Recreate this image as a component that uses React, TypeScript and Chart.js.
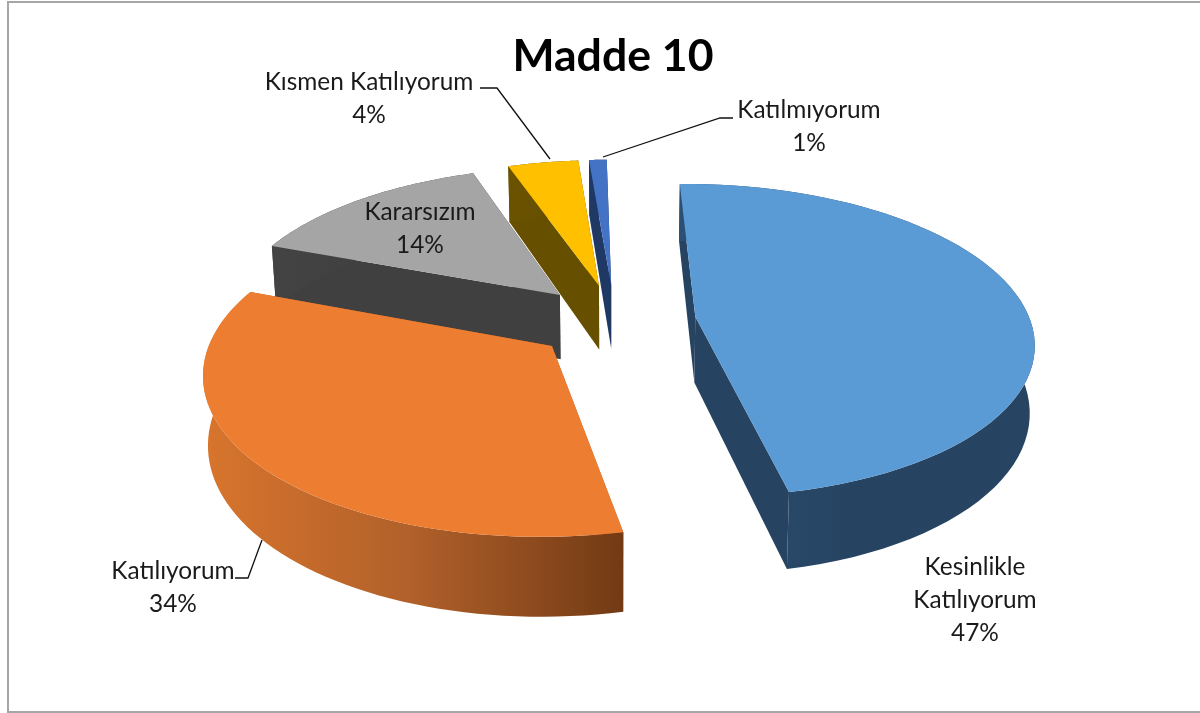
import React, { useEffect, useRef } from "react";
import { Chart, registerables } from "chart.js";

Chart.register(...registerables);

const TITLE = "Madde 10";
const CATEGORIES = ["Kesinlikle Katılıyorum", "Katılıyorum", "Kararsızım", "Kısmen Katılıyorum", "Katılmıyorum"];
const VALUES = [47, 34, 14, 4, 1];
const TOP_COLORS = ["#5B9BD5", "#ED7D31", "#A5A5A5", "#FFC000", "#4472C4"];
const SIDE_COLORS: string[][] = [
  ["#2C5074", "#264361", "#274563"],
  ["#D8752D", "#B0602A", "#723A14"],
  ["#434343", "#404040", "#464646"],
  ["#6B5200", "#665000", "#665000"],
  ["#203864", "#203864", "#203864"],
];
const PAINT_ORDER = [4, 3, 2, 1, 0];
const LABEL_LINES: string[][] = [["Kesinlikle", "Katılıyorum"], ["Katılıyorum"], ["Kararsızım"], ["Kısmen Katılıyorum"], ["Katılmıyorum"]];

// layout of the picture (not data)
const FONT = "Lato, Carlito, sans-serif";
const LABEL_PX = 24.4;
const LABEL_ANCHOR = [[975, 567], [173, 571], [420, 212], [369, 82], [809, 110]];
const LEADERS: number[][][] = [
  [],
  [[235, 578], [248, 578], [262, 540]],
  [],
  [[480, 88], [497, 88], [550, 159]],
  [[733, 118], [720, 118], [603, 157]],
];
const VIEW = { cx: 615, cy: 321, rx: 335, persp: 0.15, flat: 0.46, depth: 66, taper: 0.012 };
const STEPS = 64;

function project(u: number, v: number, z: number) {
  const k = 1 / (1 - VIEW.persp * v);
  return {
    x: VIEW.cx + u * k * VIEW.rx * (1 - VIEW.taper * z),
    y: VIEW.cy + (VIEW.flat * v * VIEW.rx + z * VIEW.depth) * k,
  };
}

function fillPoly(ctx: CanvasRenderingContext2D, pts: { x: number; y: number }[], fill: string | CanvasGradient) {
  ctx.beginPath();
  pts.forEach((p, i) => (i ? ctx.lineTo(p.x, p.y) : ctx.moveTo(p.x, p.y)));
  ctx.closePath();
  ctx.fillStyle = fill;
  ctx.fill();
}

const pie3d = {
  id: "pie3d",
  beforeDraw(chart: any) {
    const { ctx, width, height } = chart;
    ctx.save();
    ctx.fillStyle = "#ffffff";
    ctx.fillRect(0, 0, width, height);
    ctx.strokeStyle = "#A6A6A6";
    ctx.lineWidth = 2;
    ctx.strokeRect(8, 2, width + 10, 710);
    ctx.restore();
  },
  beforeDatasetDraw(chart: any, args: any) {
    const { ctx } = chart;
    const arcs = chart.getDatasetMeta(args.index).data;
    ctx.save();
    PAINT_ORDER.forEach((i) => {
      const arc = arcs[i];
      const r = arc.outerRadius;
      const mid = (arc.startAngle + arc.endAngle) / 2;
      const d = arc.options.offset / r;
      const ou = Math.cos(mid) * d;
      const ov = Math.sin(mid) * d;
      const at = (a: number, z: number) => project(ou + Math.cos(a), ov + Math.sin(a), z);
      const apex = (z: number) => project(ou, ov, z);
      const top: { x: number; y: number }[] = [];
      const bottom: { x: number; y: number }[] = [];
      for (let s = 0; s <= STEPS; s++) {
        const a = arc.startAngle + ((arc.endAngle - arc.startAngle) * s) / STEPS;
        top.push(at(a, 0));
        bottom.push(at(a, 1));
      }
      const xs = top.concat(bottom).map((p) => p.x);
      const grad = ctx.createLinearGradient(Math.min(...xs), 0, Math.max(...xs), 0);
      SIDE_COLORS[i].forEach((c, n) => grad.addColorStop(n / 2, c));
      fillPoly(ctx, [apex(0), top[0], bottom[0], apex(1)], SIDE_COLORS[i][1]);
      fillPoly(ctx, [apex(0), top[STEPS], bottom[STEPS], apex(1)], SIDE_COLORS[i][1]);
      fillPoly(ctx, top.concat(bottom.slice().reverse()), grad);
      fillPoly(ctx, [apex(0), ...top], TOP_COLORS[i]);
    });
    ctx.restore();
    return false;
  },
  afterDatasetsDraw(chart: any) {
    const { ctx } = chart;
    ctx.save();
    ctx.strokeStyle = "#111111";
    ctx.lineWidth = 1.3;
    LEADERS.forEach((pts) => {
      if (!pts.length) return;
      ctx.beginPath();
      pts.forEach(([x, y], n) => (n ? ctx.lineTo(x, y) : ctx.moveTo(x, y)));
      ctx.stroke();
    });
    ctx.fillStyle = "#1A1A1A";
    ctx.font = `${LABEL_PX}px ${FONT}`;
    ctx.textAlign = "center";
    ctx.textBaseline = "middle";
    VALUES.forEach((v, i) => {
      const lines = [...LABEL_LINES[i], `${v}%`];
      lines.forEach((t, n) => ctx.fillText(t, LABEL_ANCHOR[i][0], LABEL_ANCHOR[i][1] + n * 33));
    });
    ctx.restore();
  },
};

export default function App() {
  const ref = useRef<HTMLCanvasElement>(null);
  useEffect(() => {
    document.body.style.margin = "0";
    const chart = new Chart(ref.current!, {
      type: "pie",
      data: {
        labels: CATEGORIES,
        datasets: [{ data: VALUES, backgroundColor: TOP_COLORS, borderWidth: 0, offset: 68 }],
      },
      options: {
        animation: false,
        responsive: false,
        rotation: -1,
        layout: { padding: { left: 26, top: 30 } },
        plugins: {
          legend: { display: false },
          tooltip: { enabled: false },
          title: {
            display: true,
            text: TITLE,
            color: "#000000",
            font: { family: FONT, size: 44.6, weight: "bold" },
            padding: { top: 0, bottom: 0 },
          },
        },
      },
      plugins: [pie3d],
    } as any);
    return () => chart.destroy();
  }, []);
  return <canvas ref={ref} width={1200} height={713} style={{ display: "block" }} />;
}
